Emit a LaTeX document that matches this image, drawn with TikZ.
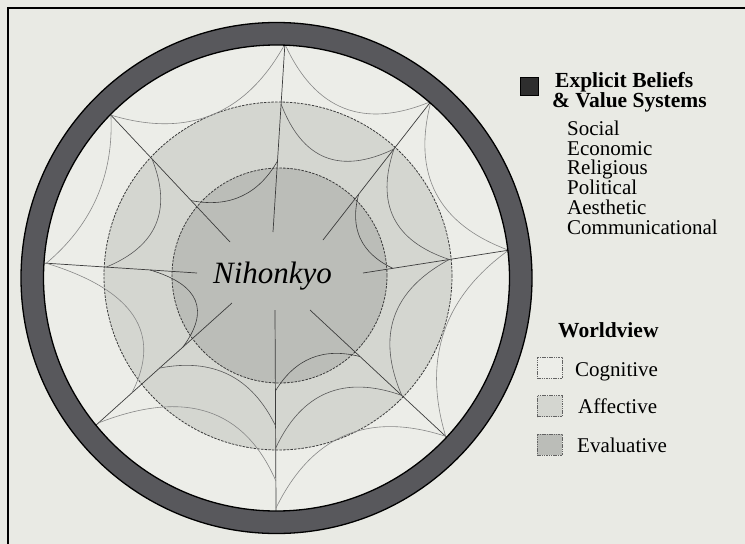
\documentclass[tikz,border=0pt]{standalone}
\usepackage{fontspec}
\setmainfont{Liberation Serif}
\usetikzlibrary{calc}
\definecolor{paper}{RGB}{233,234,228}
\definecolor{cogn}{RGB}{236,237,232}
\definecolor{affc}{RGB}{212,214,208}
\definecolor{evalc}{RGB}{187,189,184}
\definecolor{ringc}{RGB}{88,88,92}
\definecolor{webdark}{RGB}{60,60,60}
\definecolor{weblight}{RGB}{135,135,135}
% quadratic web thread from #1 to #2, sagging toward C; #3 = twice the sag
\newcommand\webarc[4]{%
  \coordinate (wm) at ($(#1)!0.5!(#2)$);
  \coordinate (wc) at ($(wm)!#3!(C)$);
  \draw[#4] (#1) .. controls ($(#1)!0.6667!(wc)$) and ($(#2)!0.6667!(wc)$) .. (#2);}
\begin{document}
\begin{tikzpicture}[x=1pt,y=-1pt,
  spoke/.style={draw=webdark,line width=0.7pt},
  outerarc/.style={draw=weblight,line width=0.6pt},
  midarc/.style={draw=webdark!85,line width=0.6pt},
  innerarc/.style={draw=webdark,line width=0.6pt},
  zone/.style={draw=webdark,line width=0.8pt,dash pattern=on 2.5pt off 1.2pt},
  legtext/.style={anchor=base west,inner sep=0pt,font=\fontsize{21}{21}\selectfont},
  legbold/.style={anchor=base west,inner sep=0pt,font=\fontsize{21.5}{21.5}\selectfont\bfseries},
  legbox/.style={draw=webdark!80,line width=0.6pt,dash pattern=on 1.5pt off 0.8pt,minimum width=25pt,minimum height=21pt,inner sep=0pt}
]
\useasboundingbox (0,0) rectangle (745,544);
\fill[paper] (0,0) rectangle (745,544);
\draw[line width=1.4pt] (8,560) -- (8,8) -- (760,8);

\coordinate (C) at (278,276);
\coordinate (RC) at (276.5,278);
\coordinate (EC) at (279.5,275.5);

% zones
\fill[cogn] (RC) circle[radius=234pt];
\fill[affc] (C) circle[radius=174pt];
\fill[evalc] (EC) circle[radius=107.5pt];

% spoke points: s = inner start, o = ring, m = middle, i = inner
\coordinate (s1) at (273,232);   \coordinate (o1) at (284.9,44.1);  \coordinate (m1) at (281.1,104.1); \coordinate (i1) at (277.5,161.0);
\coordinate (s2) at (323,240);   \coordinate (o2) at (430.9,101.5); \coordinate (m2) at (394.0,149.0); \coordinate (i2) at (358.7,194.2);
\coordinate (s3) at (363,273);   \coordinate (o3) at (508.6,250.2); \coordinate (m3) at (449.3,259.5); \coordinate (i3) at (392.7,268.3);
\coordinate (s4) at (310,310);   \coordinate (o4) at (445.7,436.3); \coordinate (m4) at (401.8,395.4); \coordinate (i4) at (360.1,356.6);
\coordinate (s5) at (275,310);   \coordinate (o5) at (276,508);     \coordinate (m5) at (275.7,448);   \coordinate (i5) at (275.4,391);
\coordinate (s6) at (232,303);   \coordinate (o6) at (98.5,422.9);  \coordinate (m6) at (131.9,392.8); \coordinate (i6) at (182.7,347.3);
\coordinate (s7) at (197,273);   \coordinate (o7) at (46.3,263.2);  \coordinate (m7) at (106.2,267.1); \coordinate (i7) at (150.1,270.0);
\coordinate (s8) at (230,242);   \coordinate (o8) at (110.9,115.1); \coordinate (m8) at (152.0,158.9); \coordinate (i8) at (191.1,200.6);
\coordinate (b5) at (275.9,481);   \coordinate (b5b) at (275.6,426);
\coordinate (l6) at (159.5,368.1);

\draw[zone] (C) circle[radius=174pt];
\draw[zone] (EC) circle[radius=107.5pt];

\begin{scope}
\clip (RC) circle[radius=234pt];
% spokes
\foreach \k in {1,...,8} {\draw[spoke] (s\k) -- ($(s\k)!1.04!(o\k)$);}
% outer threads
\webarc{o8}{o1}{76pt}{outerarc}
\webarc{o1}{o2}{76pt}{outerarc}
\webarc{o2}{o3}{76pt}{outerarc}
\webarc{o3}{o4}{70pt}{outerarc}
\webarc{o4}{o5}{80pt}{outerarc}
\webarc{o6}{b5}{90pt}{outerarc}
\webarc{o7}{m6}{92pt}{outerarc}
\webarc{o7}{o8}{40pt}{outerarc}
% middle threads
\webarc{m1}{m2}{66pt}{midarc}
\webarc{m2}{m3}{62pt}{midarc}
\webarc{m3}{m4}{66pt}{midarc}
\webarc{m4}{m5}{62pt}{midarc}
\webarc{l6}{b5b}{50pt}{midarc}
\webarc{m7}{m8}{58pt}{midarc}
% inner threads
\webarc{i8}{i1}{34pt}{innerarc}
\webarc{i2}{i3}{34pt}{innerarc}
\webarc{i4}{i5}{34pt}{innerarc}
\webarc{i7}{i6}{60pt}{innerarc}
\end{scope}

% dark ring
\fill[ringc,even odd rule] (RC) circle[radius=255.5pt] (RC) circle[radius=233pt];
\draw[black,line width=1.3pt] (RC) circle[radius=255.5pt];
\draw[black,line width=1.3pt] (RC) circle[radius=233pt];

\node[anchor=base,inner sep=0pt,font=\fontsize{31}{31}\selectfont\itshape] (nih) at (272.5,283) {Nihonkyo};

% legend: beliefs
\node[draw=black,fill=black!82,minimum size=18pt,inner sep=0pt] (sqEB) at (529,86) {};
\node[legbold] (eb1) at (555,87) {Explicit Beliefs};
\node[legbold] (eb2) at (552,107) {\& Value Systems};
\node[legtext] (v1) at (567,135) {Social};
\node[legtext] (v2) at (567,155) {Economic};
\node[legtext] (v3) at (567,174) {Religious};
\node[legtext] (v4) at (567,194) {Political};
\node[legtext] (v5) at (567,214) {Aesthetic};
\node[legtext] (v6) at (567,234) {Communicational};

% legend: worldview
\node[legbold] (wv) at (558,337) {Worldview};
\node[legbox,fill=cogn] (bc) at (549.5,367.5) {};
\node[legbox,fill=affc] (ba) at (549.5,406) {};
\node[legbox,fill=evalc] (be) at (549.5,444.5) {};
\node[legtext] (tc) at (575,376) {Cognitive};
\node[legtext] (ta) at (578,413) {Affective};
\node[legtext] (te) at (577,452) {Evaluative};
\end{tikzpicture}
\end{document}
